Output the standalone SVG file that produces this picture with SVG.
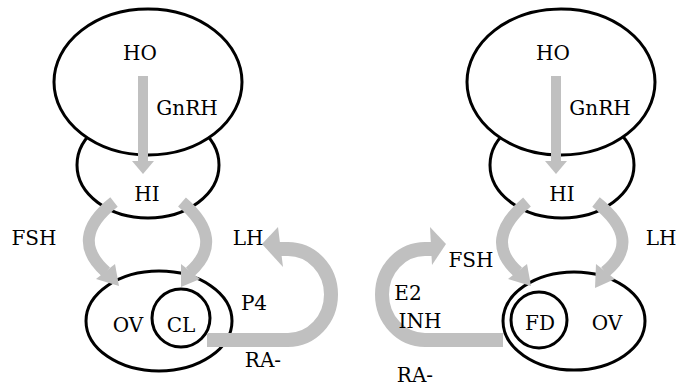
<svg xmlns="http://www.w3.org/2000/svg" width="677" height="387" viewBox="0 0 677 387">
<style>
.n{fill:#fff;stroke:#000;stroke-width:3}
.c{fill:none;stroke:#000;stroke-width:3}
.t{font-family:"DejaVu Serif",serif;font-size:20px;fill:#000;text-anchor:middle}
.a{fill:none;stroke:#c0c0c0;stroke-width:12}
.b{fill:none;stroke:#c0c0c0;stroke-width:14}
.h{fill:#c0c0c0}
</style>
<rect width="677" height="387" fill="#fff"/>
<g id="left-HI"><ellipse class="n" cx="148" cy="165" rx="71" ry="53"/><text class="t" x="147" y="201">HI</text></g>
<g id="left-HO"><ellipse class="n" cx="148" cy="82" rx="94" ry="73"/><text class="t" x="140" y="60">HO</text></g>
<g id="left-OV"><ellipse class="n" cx="159" cy="321" rx="73" ry="50"/><text class="t" x="128" y="332">OV</text></g>
<g id="left-CL"><circle class="c" cx="181" cy="318" r="29"/><text class="t" x="181" y="332">CL</text></g>
<g id="right-HI"><ellipse class="n" cx="562" cy="165" rx="72" ry="53"/><text class="t" x="562" y="201">HI</text></g>
<g id="right-HO"><ellipse class="n" cx="561" cy="82" rx="94" ry="73"/><text class="t" x="553" y="60">HO</text></g>
<g id="right-OV"><ellipse class="n" cx="574" cy="321" rx="71" ry="49"/><text class="t" x="607" y="330">OV</text></g>
<g id="right-FD"><circle class="c" cx="539" cy="320" r="28"/><text class="t" x="540" y="330">FD</text></g>
<g id="connectors">
<rect class="h" x="138" y="76" width="10" height="87"/><polygon class="h" points="132,161 154,161 143,174"/>
<rect class="h" x="551" y="76" width="10" height="87"/><polygon class="h" points="545,161 567,161 556,174"/>
<path class="a" d="M114 202 Q68 238 106 272"/><polygon class="h" points="96,279 115,264 119,286"/>
<path class="a" d="M182 202 Q226 240 190 272"/><polygon class="h" points="181,264 200,279 181,287"/>
<path class="a" d="M527 202 Q482 240 518 272"/><polygon class="h" points="508,279 527,264 531,286"/>
<path class="a" d="M596 202 Q644 240 605 272"/><polygon class="h" points="596,264 615,279 595,288"/>
<path class="b" d="M207 340 H288 A43 45.5 0 0 0 288 249 H278"/><polygon class="h" points="278,227 262,244 283,267"/>
<path class="b" d="M503 340 H425 A43 45.5 0 0 1 425 249 H432"/><polygon class="h" points="430,227 446,244 432,265"/>
</g>
<g id="labels">
<text class="t" x="187" y="115">GnRH</text>
<text class="t" x="34" y="245">FSH</text>
<text class="t" x="248" y="245">LH</text>
<text class="t" x="254" y="310">P4</text>
<text class="t" x="263" y="367">RA-</text>
<text class="t" x="600" y="115">GnRH</text>
<text class="t" x="471" y="267">FSH</text>
<text class="t" x="661" y="245">LH</text>
<text class="t" x="408" y="300">E2</text>
<text class="t" x="420" y="328">INH</text>
<text class="t" x="415" y="382">RA-</text>
</g>
</svg>
